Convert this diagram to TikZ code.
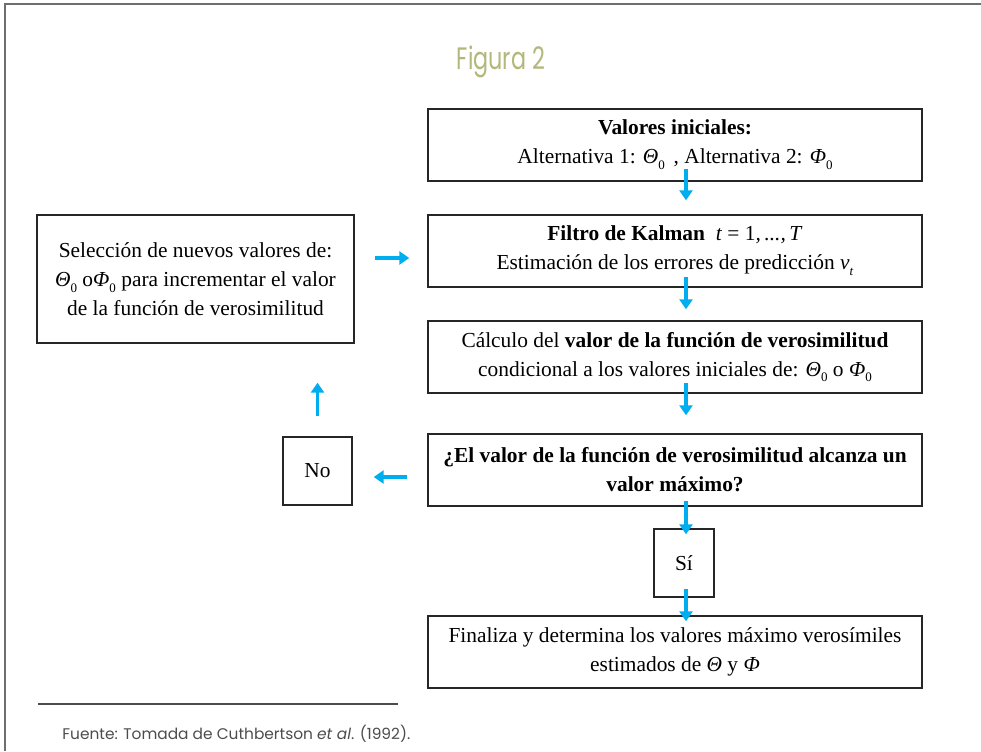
\documentclass[tikz,border=0pt]{standalone}
\usepackage{fontspec}
\setmainfont{Liberation Serif}
\newfontfamily\titlefont[FakeStretch=0.72]{Poppins}
\newfontfamily\notefont{Poppins}
\usepackage{tikz}
\usetikzlibrary{arrows.meta, calc}
\definecolor{azul}{RGB}{0,174,239}
\definecolor{oliva}{RGB}{178,183,122}
\definecolor{marco}{RGB}{110,110,110}
\tikzset{caja/.style={draw=black!85, line width=0.7pt, inner sep=0pt, align=center, font=\fontsize{10.7}{14.5}\selectfont}}
\tikzset{flecha/.style={draw=azul, line width=1.6pt, -{Triangle[length=5pt,width=6.5pt]}}}
\newcommand{\ind}[1]{\raisebox{-0.6ex}{\fontsize{6.5}{6.5}\selectfont #1}}

\begin{document}
\begin{tikzpicture}[x=0.5pt, y=-0.5pt]
\useasboundingbox (0,0) rectangle (981,751);
\draw[marco, line width=0.9pt] (981,4) -- (5,4) -- (5,751);
\node[text=oliva, font=\titlefont\fontsize{15.5}{18}\selectfont] (titulo) at (501,62) {Figura 2};
\node[caja, minimum width=247pt, minimum height=36pt] (ini) at (675,145) {\textbf{Valores iniciales:}\\Alternativa 1: \textit{Θ}\ind{0}\, , Alternativa 2: \textit{Φ}\ind{0}};
\node[caja, minimum width=247pt, minimum height=36pt] (kalman) at (675,251) {\textbf{Filtro de Kalman} \ \textit{t} = 1\textit{,\,...,\,T}\\Estimación de los errores de predicción \textit{v}\ind{\textit{t}}};
\node[caja, minimum width=247pt, minimum height=36pt] (calculo) at (675,357) {Cálculo del \textbf{valor de la función de verosimilitud}\\condicional a los valores iniciales de: \textit{Θ}\ind{0} o \textit{Φ}\ind{0}};
\node[caja, minimum width=247pt, minimum height=36pt] (maximo) at (675,470) {\textbf{¿El valor de la función de verosimilitud alcanza un}\\\textbf{valor máximo?}};
\node[caja, minimum width=30pt, minimum height=34pt] (si) at (684,563) {Sí};
\node[caja, minimum width=247pt, minimum height=36pt] (fin) at (675,652) {Finaliza y determina los valores máximo verosímiles\\estimados de \textit{Θ} y \textit{Φ}};
\node[caja, minimum width=158.5pt, minimum height=64pt] (seleccion) at (195.5,279) {Selección de nuevos valores de:\\\textit{Θ}\ind{0} o\textit{Φ}\ind{0} para incrementar el valor\\de la función de verosimilitud};
\node[caja, minimum width=34.5pt, minimum height=34pt] (no) at (317.5,471) {No};
\draw[flecha] ([xshift=5.5pt,yshift=6.5pt]ini.south) -- ([xshift=5.5pt,yshift=7pt]kalman.north);
\draw[flecha] ([xshift=5.5pt,yshift=5.5pt]kalman.south) -- ([xshift=5.5pt,yshift=5.5pt]calculo.north);
\draw[flecha] ([xshift=5.5pt,yshift=5.5pt]calculo.south) -- ([xshift=5.5pt,yshift=9pt]maximo.north);
\draw[flecha] ([xshift=5.5pt,yshift=3pt]maximo.south) -- ([xshift=1pt,yshift=-3pt]si.north);
\draw[flecha] ([xshift=1pt,yshift=4.5pt]si.south) -- ([xshift=5.5pt,yshift=-3pt]fin.north);
\draw[flecha] ($(seleccion.east |- kalman.west)+(20,7)$) -- ($(kalman.west)+(-18,7)$);
\draw[flecha] ($(maximo.west)+(-20,7)$) -- ($(no.east |- maximo.west)+(21,7)$);
\draw[flecha] ($(no.north)+(0,-20)$) -- ($(seleccion.south -| no.north)+(0,39)$);
\draw[black!70, line width=0.8pt] (38,704) -- (398,704);
\node[anchor=base west, inner sep=0pt, text=black!70, font=\notefont\fontsize{7.7}{9}\selectfont] (fuente) at (62,739) {Fuente: Tomada de Cuthbertson \textit{et al}. (1992).};
\end{tikzpicture}
\end{document}
